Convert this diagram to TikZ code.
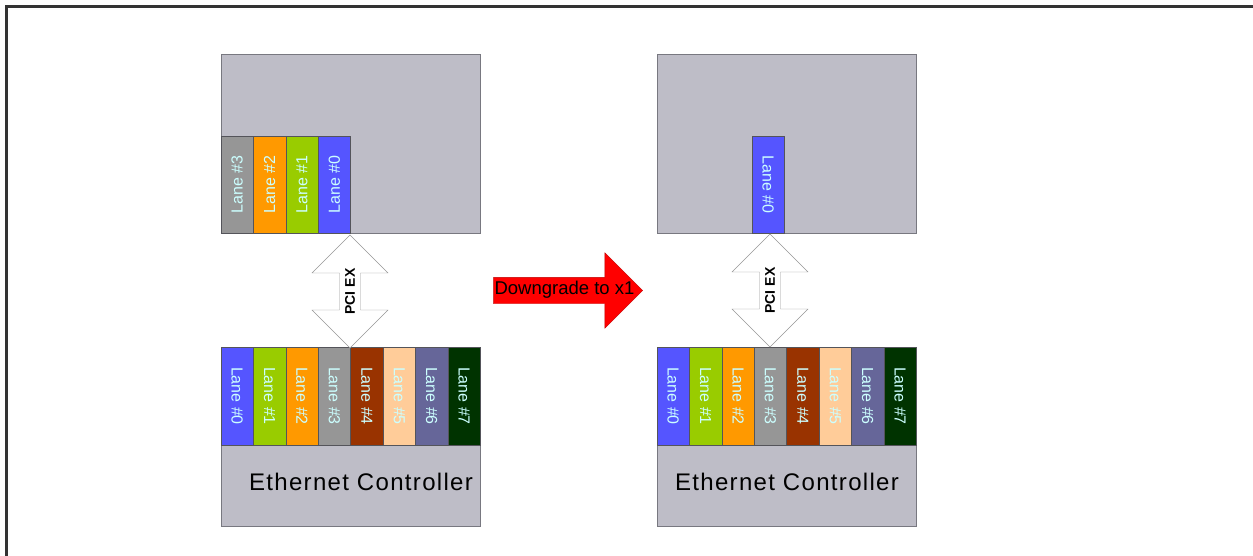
\documentclass[tikz,border=0pt]{standalone}
\usepackage{fontspec}
\setmainfont{Liberation Sans}
\usetikzlibrary{shapes,arrows,positioning}
\usepackage{xcolor}

\definecolor{boxgray}{RGB}{190,189,199}
\definecolor{edgegray}{RGB}{120,120,128}
\definecolor{linkgray}{RGB}{150,150,150}
\definecolor{lanetext}{RGB}{204,255,255}
\definecolor{laneZero}{RGB}{85,85,255}
\definecolor{laneOne}{RGB}{153,204,0}
\definecolor{laneTwo}{RGB}{255,153,0}
\definecolor{laneThree}{RGB}{150,150,150}
\definecolor{laneFour}{RGB}{153,51,0}
\definecolor{laneFive}{RGB}{255,204,153}
\definecolor{laneSix}{RGB}{102,102,153}
\definecolor{laneSeven}{RGB}{0,51,0}

\begin{document}
\begin{tikzpicture}[x=1pt, y=-1pt]
    \tikzstyle{board} = [rectangle, draw=edgegray, fill=boxgray, minimum width=259pt, minimum height=179pt, inner sep=0pt, outer sep=0pt, anchor=north west]
    \tikzstyle{lane} = [rectangle, draw=edgegray!70!black, minimum width=32.4pt, minimum height=97pt, inner sep=0pt, outer sep=0pt, text=lanetext, font=\fontsize{16}{16}\selectfont]
    \tikzstyle{link} = [double arrow, draw=linkgray, fill=white, rotate=90, minimum height=113pt, minimum width=76pt, double arrow head extend=26.5pt, inner sep=5pt, font=\bfseries\fontsize{14}{14}\selectfont]

    \useasboundingbox (0,0) rectangle (1253,556);
    \draw[line width=2.5pt, color=black!80] (6.5,556) -- (6.5,6.5) -- (1253,6.5);

    % before: x4 link
    \node[board] (hostA) at (221,54) {};
    \node[board] (nicA) at (221,347) {};

    \node[lane, fill=laneThree, anchor=south west] (ha3) at (hostA.south west) {\rotatebox{90}{Lane \#3}};
    \node[lane, fill=laneTwo, right=0pt of ha3] (ha2) {\rotatebox{90}{Lane \#2}};
    \node[lane, fill=laneOne, right=0pt of ha2] (ha1) {\rotatebox{90}{Lane \#1}};
    \node[lane, fill=laneZero, right=0pt of ha1] (ha0) {\rotatebox{90}{Lane \#0}};

    \node[lane, minimum height=98pt, fill=laneZero, anchor=north west] (na0) at (nicA.north west) {\rotatebox{-90}{Lane \#0}};
    \node[lane, minimum height=98pt, fill=laneOne, right=0pt of na0] (na1) {\rotatebox{-90}{Lane \#1}};
    \node[lane, minimum height=98pt, fill=laneTwo, right=0pt of na1] (na2) {\rotatebox{-90}{Lane \#2}};
    \node[lane, minimum height=98pt, fill=laneThree, right=0pt of na2] (na3) {\rotatebox{-90}{Lane \#3}};
    \node[lane, minimum height=98pt, fill=laneFour, right=0pt of na3] (na4) {\rotatebox{-90}{Lane \#4}};
    \node[lane, minimum height=98pt, fill=laneFive, right=0pt of na4] (na5) {\rotatebox{-90}{Lane \#5}};
    \node[lane, minimum height=98pt, fill=laneSix, right=0pt of na5] (na6) {\rotatebox{-90}{Lane \#6}};
    \node[lane, minimum height=98pt, fill=laneSeven, right=0pt of na6] (na7) {\rotatebox{-90}{Lane \#7}};

    \node[font=\fontsize{24}{24}\selectfont\addfontfeatures{LetterSpace=5.5}] (ecA) at (361,482) {Ethernet Controller};
    \node[link] (pciA) at (350,291.5) {PCI EX};

    % downgrade arrow
    \node[single arrow, fill=red, draw=red!75!black, minimum height=149pt, minimum width=75pt, single arrow head extend=24.5pt, inner xsep=0pt, inner ysep=13pt] (down) at (561.5,290.5) {};
    \node[font=\fontsize{18.5}{18.5}\selectfont] (downtxt) at (564.5,290) {Downgrade to x1};

    % after: x1 link
    \node[board] (hostB) at (657,54) {};
    \node[board] (nicB) at (657,347) {};

    \node[lane, fill=laneZero, anchor=south west] (hb0) at (752,233) {\rotatebox{-90}{Lane \#0}};

    \node[lane, minimum height=98pt, fill=laneZero, anchor=north west] (nb0) at (nicB.north west) {\rotatebox{-90}{Lane \#0}};
    \node[lane, minimum height=98pt, fill=laneOne, right=0pt of nb0] (nb1) {\rotatebox{-90}{Lane \#1}};
    \node[lane, minimum height=98pt, fill=laneTwo, right=0pt of nb1] (nb2) {\rotatebox{-90}{Lane \#2}};
    \node[lane, minimum height=98pt, fill=laneThree, right=0pt of nb2] (nb3) {\rotatebox{-90}{Lane \#3}};
    \node[lane, minimum height=98pt, fill=laneFour, right=0pt of nb3] (nb4) {\rotatebox{-90}{Lane \#4}};
    \node[lane, minimum height=98pt, fill=laneFive, right=0pt of nb4] (nb5) {\rotatebox{-90}{Lane \#5}};
    \node[lane, minimum height=98pt, fill=laneSix, right=0pt of nb5] (nb6) {\rotatebox{-90}{Lane \#6}};
    \node[lane, minimum height=98pt, fill=laneSeven, right=0pt of nb6] (nb7) {\rotatebox{-90}{Lane \#7}};

    \node[font=\fontsize{24}{24}\selectfont\addfontfeatures{LetterSpace=5.5}] (ecB) at (787,482) {Ethernet Controller};
    \node[link] (pciB) at (770,290.5) {PCI EX};
\end{tikzpicture}
\end{document}
